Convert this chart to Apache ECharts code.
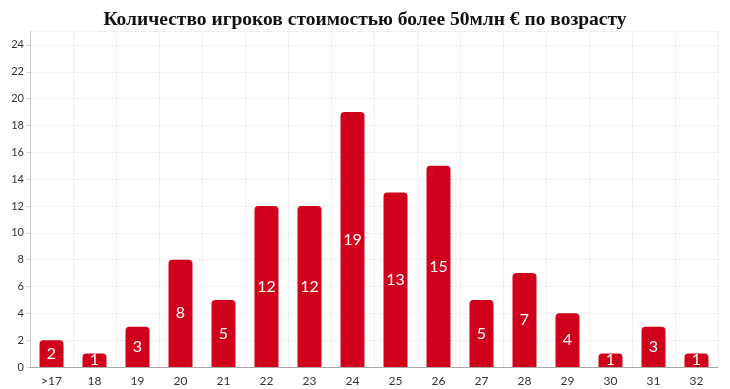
<!DOCTYPE html>
<html><head><meta charset="utf-8">
<script src="https://cdn.jsdelivr.net/npm/echarts@6/dist/echarts.min.js"></script>
<style>html,body{margin:0;padding:0;background:#fff}#c{width:730px;height:389px}</style>
</head><body><div id="c"></div>
<script>
const categories = ['>17','18','19','20','21','22','23','24','25','26','27','28','29','30','31','32'];
const values = [2,1,3,8,5,12,12,19,13,15,5,7,4,1,3,1];
const titleText = 'Количество игроков стоимостью более 50млн € по возрасту';

const chart = echarts.init(document.getElementById('c'));
chart.setOption({
  animation: false,
  title: {
    text: titleText, left: 'center', top: 5,
    textStyle: {fontFamily: 'Liberation Serif', fontWeight: 'bold', fontSize: 19.5, color: '#111'}
  },
  grid: {left: 30, right: 12, top: 31.5, bottom: 22},
  xAxis: {
    type: 'category', data: categories,
    axisLine: {lineStyle: {color: '#aaa'}},
    axisTick: {show: false},
    splitLine: {show: true, lineStyle: {color: '#f0f0f0'}},
    axisLabel: {fontFamily: 'Lato', fontSize: 12, color: '#333', margin: 8}
  },
  yAxis: {
    type: 'value', min: 0, max: 25, interval: 2,
    axisLine: {show: true, lineStyle: {color: '#ccc'}},
    axisTick: {show: true, length: 3, lineStyle: {color: '#ccc'}},
    splitLine: {lineStyle: {color: '#f0f0f0'}},
    axisLabel: {fontFamily: 'Lato', fontSize: 11, color: '#333', showMaxLabel: false, margin: 6}
  },
  series: [{
    type: 'bar', data: values, barWidth: 24,
    itemStyle: {color: '#d0021b', borderRadius: [4,4,0,0]},
    label: {show: true, position: 'inside', color: '#fff', fontFamily: 'Lato', fontSize: 16}
  }]
});
</script></body></html>
